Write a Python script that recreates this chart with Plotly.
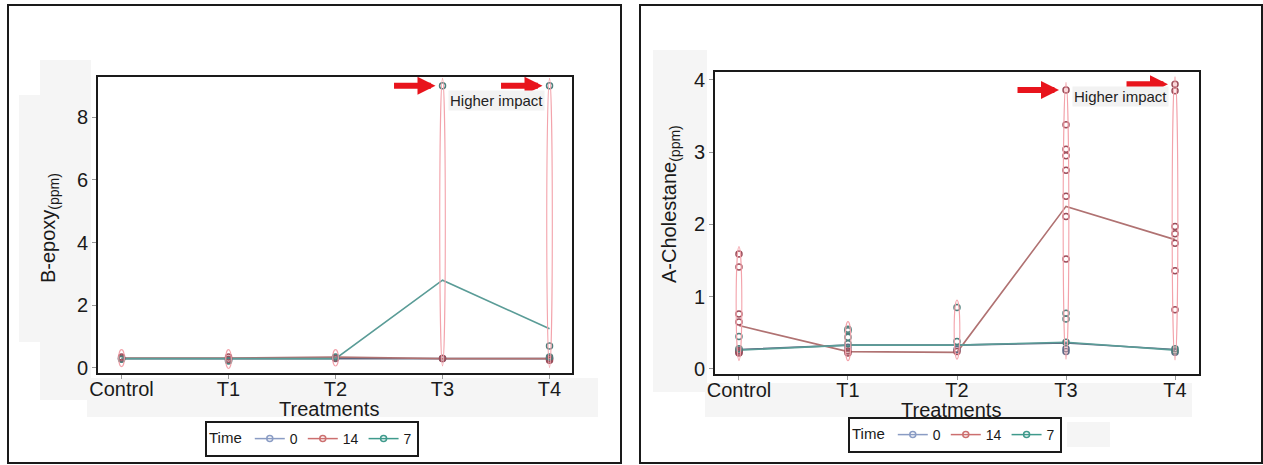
import plotly.graph_objects as go

# ---------------- data ----------------
categories = ["Control", "T1", "T2", "T3", "T4"]
series_names = ["0", "14", "7"]

# B-epoxy (ppm) - mean lines per time
epoxy_mean_0 = [0.30, 0.30, 0.30, 0.30, 0.30]
epoxy_mean_14 = [0.32, 0.32, 0.35, 0.30, 0.30]
epoxy_mean_7 = [0.30, 0.30, 0.30, 2.80, 1.25]
# B-epoxy individual observations per category
epoxy_pts_0 = [[0.30], [0.25], [0.30], [0.30], [0.30]]
epoxy_pts_14 = [[0.30, 0.35], [0.35, 0.28], [0.32], [0.30], [0.30, 0.25]]
epoxy_pts_7 = [[0.28], [0.22], [0.35], [9.00], [9.00, 0.70, 0.35]]

# A-Cholestane (ppm) - mean lines per time
chol_mean_0 = [0.27, 0.33, 0.33, 0.36, 0.27]
chol_mean_14 = [0.60, 0.24, 0.23, 2.25, 1.79]
chol_mean_7 = [0.26, 0.33, 0.33, 0.37, 0.26]
# A-Cholestane individual observations per category
chol_pts_0 = [[0.26, 0.23], [0.30], [0.27], [0.28, 0.24], [0.23]]
chol_pts_14 = [[1.59, 1.41, 0.76, 0.65, 0.25, 0.22], [0.25, 0.22], [0.24],
               [3.86, 3.38, 3.04, 2.95, 2.75, 2.39, 2.11, 1.52],
               [3.94, 3.85, 1.97, 1.87, 1.74, 1.36, 0.82]]
chol_pts_7 = [[0.45, 0.28], [0.55, 0.53, 0.44, 0.35], [0.85, 0.38],
              [0.77, 0.69, 0.37], [0.28, 0.25]]

y_titles = ["B-epoxy<sub>(ppm)</sub>", "A-Cholestane<sub>(ppm)</sub>"]
x_title = "Treatments"
note_text = "Higher impact"
legend_title = "Time"

# ---------------- styling ----------------
W, H = 1263, 465
FONT = "Liberation Sans, Arial, sans-serif"
line_colors = {"0": "#5c6680", "14": "#b07272", "7": "#5a9c97"}
point_colors = {"0": "#5f6b86", "14": "#9b4d5a", "7": "#4d7f7c"}
legend_line_colors = {"0": "#8a9cc4", "14": "#cc6f6f", "7": "#3f9a8c"}
TXT = "#1a1a1a"


def px(x):
    return x / W


def py(y):
    return 1 - y / H


fig = go.Figure()

panels = [
    dict(xa="x", ya="y", legend="legend",
         means=[epoxy_mean_0, epoxy_mean_14, epoxy_mean_7],
         pts=[epoxy_pts_0, epoxy_pts_14, epoxy_pts_7],
         yrange=[-0.16, 9.28], ytick=2),
    dict(xa="x2", ya="y2", legend="legend2",
         means=[chol_mean_0, chol_mean_14, chol_mean_7],
         pts=[chol_pts_0, chol_pts_14, chol_pts_7],
         yrange=[-0.07, 4.11], ytick=1),
]

shapes = []
annotations = []

# light scan patches
patches = [
    (40, 60, 91, 400), (19, 95, 40, 342), (87, 378, 598, 417),
    (653, 50, 707, 392), (705, 383, 1192, 417), (1067, 422, 1110, 447),
]
for x0, y0, x1, y1 in patches:
    shapes.append(dict(type="rect", xref="paper", yref="paper", layer="below",
                       x0=px(x0), x1=px(x1), y0=py(y1), y1=py(y0),
                       fillcolor="#f5f5f5", line=dict(width=0)))

# outer panel frames
for x0, x1 in [(8, 621), (640, 1262)]:
    shapes.append(dict(type="rect", xref="paper", yref="paper",
                       x0=px(x0), x1=px(x1), y0=py(463), y1=py(5),
                       line=dict(color=TXT, width=2), fillcolor="rgba(0,0,0,0)"))

for p in panels:
    xs = list(range(len(categories)))
    # mean lines
    for name, m in zip(series_names, p["means"]):
        fig.add_trace(go.Scatter(x=xs, y=m, mode="lines", xaxis=p["xa"], yaxis=p["ya"],
                                 line=dict(color=line_colors[name], width=1.6),
                                 showlegend=False, hoverinfo="skip"))
    # points
    for name, pts in zip(series_names, p["pts"]):
        px_ = [i for i, vals in enumerate(pts) for _ in vals]
        py_ = [v for vals in pts for v in vals]
        fig.add_trace(go.Scatter(x=px_, y=py_, mode="markers", xaxis=p["xa"], yaxis=p["ya"],
                                 marker=dict(symbol="circle-open", size=6,
                                             color=point_colors[name], line=dict(width=1.5)),
                                 showlegend=False))
    # legend entries
    for name in series_names:
        fig.add_trace(go.Scatter(x=[None], y=[None], mode="lines+markers", name=name,
                                 xaxis=p["xa"], yaxis=p["ya"], legend=p["legend"],
                                 line=dict(color=legend_line_colors[name], width=1.5),
                                 marker=dict(symbol="circle-open", size=6,
                                             color=legend_line_colors[name], line=dict(width=1.5))))
    # pink ellipses around each category's observations
    span = p["yrange"][1] - p["yrange"][0]
    pad = 0.025 * span
    for i in range(len(categories)):
        allv = [v for s in p["pts"] for v in s[i]]
        shapes.append(dict(type="circle", xref=p["xa"], yref=p["ya"],
                           x0=i - 0.026, x1=i + 0.026, y0=min(allv) - pad, y1=max(allv) + pad,
                           line=dict(color="#f3a3ab", width=1.1), fillcolor="rgba(0,0,0,0)"))
    # arrows to the highest observations at T3 and T4
    for i in (3, 4):
        top = max(v for s in p["pts"] for v in s[i])
        annotations.append(dict(x=i, y=top, xref=p["xa"], yref=p["ya"], text="",
                                showarrow=True, ax=-50, ay=0, arrowhead=2, arrowsize=0.6,
                                arrowwidth=6, arrowcolor="#e8141c", standoff=7))
    # "Higher impact" label
    annotations.append(dict(x=3.5, y=p["yrange"][1] - 0.08 * span, xref=p["xa"], yref=p["ya"],
                            xanchor="center", yanchor="middle",
                            text=note_text, showarrow=False, bgcolor="#f2f2f2",
                            font=dict(size=15, color="#222", family=FONT)))

# axis titles
for x, y, txt, ang in [(50, 228, y_titles[0], -90), (670, 204, y_titles[1], -90),
                       (329, 409, x_title, 0), (951, 410, x_title, 0)]:
    annotations.append(dict(x=px(x), y=py(y), xref="paper", yref="paper", text=txt,
                            textangle=ang, xanchor="center", yanchor="middle",
                            showarrow=False, font=dict(size=20, color=TXT, family=FONT)))

axis_common = dict(showgrid=False, zeroline=False, showline=True, mirror=True,
                   linecolor=TXT, linewidth=2, ticks="outside", ticklen=4, automargin=False,
                   tickcolor="#999", tickfont=dict(size=20, color=TXT, family=FONT))

legend_common = dict(orientation="h", bordercolor=TXT, borderwidth=2,
                     bgcolor="white", font=dict(size=14, color=TXT, family=FONT),
                     title=dict(text=legend_title, side="left",
                                font=dict(size=15, color=TXT, family=FONT)),
                     xanchor="center", yanchor="top", itemclick=False, tracegroupgap=0)

fig.update_layout(
    width=W, height=H, margin=dict(l=0, r=0, t=0, b=0, pad=0, autoexpand=False),
    paper_bgcolor="white", plot_bgcolor="white", font=dict(family=FONT),
    xaxis=dict(domain=[px(98), px(572)], range=[-0.22, 4.21], anchor="y",
               tickvals=list(range(len(categories))), ticktext=categories,
               ticklabelstandoff=-7, **axis_common),
    yaxis=dict(domain=[py(373), py(77)], range=panels[0]["yrange"], anchor="x",
               dtick=panels[0]["ytick"], **axis_common),
    xaxis2=dict(domain=[px(715), px(1199)], range=[-0.22, 4.22], anchor="y2",
                tickvals=list(range(len(categories))), ticktext=categories,
                ticklabelstandoff=-7, **axis_common),
    yaxis2=dict(domain=[py(374), py(72)], range=panels[1]["yrange"], anchor="x2",
                dtick=panels[1]["ytick"], **axis_common),
    legend=dict(x=px(312), y=py(421), **legend_common),
    legend2=dict(x=px(955), y=py(417), **legend_common),
    shapes=shapes, annotations=annotations,
)

fig.write_html("out.html", config={"displayModeBar": False},
               post_script="document.body.style.margin='0px';document.body.style.overflow='hidden';")
